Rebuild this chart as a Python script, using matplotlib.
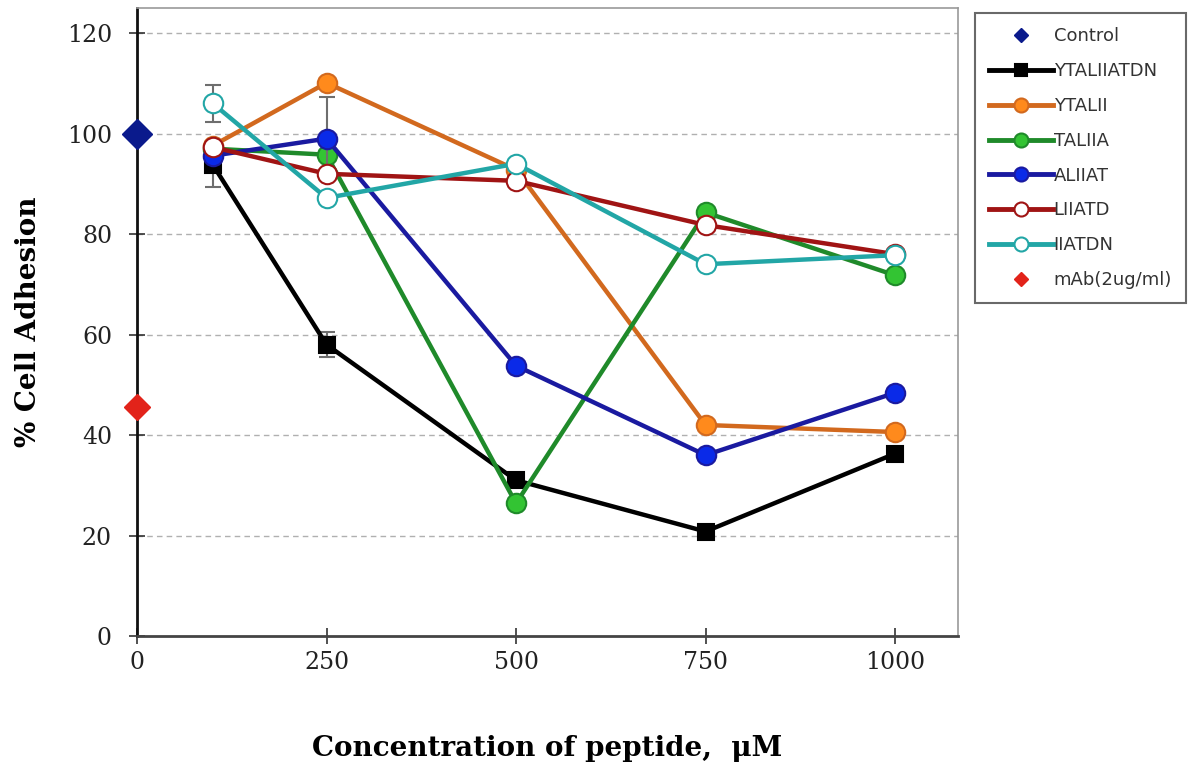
import matplotlib
matplotlib.use("Agg")
import matplotlib.pyplot as plt
from matplotlib.lines import Line2D

conc = [100, 250, 500, 750, 1000]
control_x, control_y = [0], [100]
mab_x, mab_y = [0], [45.6]

ytaliiatdn = [93.8, 58.0, 31.0, 20.8, 36.3]
ytaliiatdn_err = [4.5, 2.5, 0, 0, 0]
ytalii = [97.6, 110.1, 92.8, 42.0, 40.6]
taliia = [97.0, 95.8, 26.4, 84.3, 71.8]
aliiat = [95.6, 99.0, 53.8, 36.0, 48.4]
aliiat_err = [0, 8.2, 0, 0, 0]
liiatd = [97.3, 92.0, 90.6, 81.8, 76.0]
iiatdn = [106.0, 87.2, 94.0, 74.0, 75.8]
iiatdn_err = [3.6, 0, 0, 0, 0]

xticks = [0, 250, 500, 750, 1000]
yticks = [0, 20, 40, 60, 80, 100, 120]

fig = plt.figure(figsize=(11.98, 7.72), dpi=100)
ax = fig.add_axes([137/1198, 1-636/772, (958-137)/1198, (636-8)/772])
ax.set_xlim(0, 1083)
ax.set_ylim(0, 125)

for y in yticks[1:]:
    ax.axhline(y, color="#b0b0b0", lw=1.0, ls=(0, (4, 3)), zorder=0)

series = [
    ("YTALIIATDN", ytaliiatdn, ytaliiatdn_err, "#000000", "#000000", "#000000", "s", 12),
    ("YTALII", ytalii, None, "#d2691e", "#ff8a1c", "#d2691e", "o", 14),
    ("TALIIA", taliia, None, "#1f8a2a", "#33c433", "#1f8a2a", "o", 14),
    ("ALIIAT", aliiat, aliiat_err, "#1a1aa0", "#0a2ae8", "#1a1aa0", "o", 14),
    ("LIIATD", liiatd, None, "#a01414", "#ffffff", "#a01414", "o", 14),
    ("IIATDN", iiatdn, iiatdn_err, "#22a6a6", "#ffffff", "#22a6a6", "o", 14),
]

handles = []
ax.plot(control_x, control_y, ls="none", marker="D", ms=15, color="#0a1a8c",
        clip_on=False, zorder=5)
handles.append(Line2D([], [], ls="none", marker="D", ms=7, color="#0a1a8c", label="Control"))

z = 3
for name, vals, err, lc, fc, ec, mk, ms in series:
    if err is not None:
        xs = [c for c, e in zip(conc, err) if e > 0]
        ys = [v for v, e in zip(vals, err) if e > 0]
        es = [e for e in err if e > 0]
        ax.errorbar(xs, ys, yerr=es, fmt="none", ecolor="#6e6e6e", elinewidth=1.5,
                    capsize=6, capthick=1.5, zorder=z)
    ax.plot(conc, vals, color=lc, lw=3.2, marker=mk, ms=ms, mfc=fc, mec=ec, mew=1.5,
            zorder=z + 0.5)
    handles.append(Line2D([], [], color=lc, lw=3.5, marker=mk, ms=ms*0.72, mfc=fc,
                          mec=ec, mew=1.5, label=name))
    z += 1

ax.plot(mab_x, mab_y, ls="none", marker="D", ms=13, color="#e2231a", clip_on=False, zorder=12)
handles.append(Line2D([], [], ls="none", marker="D", ms=7, color="#e2231a", label="mAb(2ug/ml)"))

ax.set_xticks(xticks)
ax.set_yticks(yticks)
ax.tick_params(direction="inout", length=12, width=1.2, color="#333333")
ax.tick_params(axis="y", pad=12)
ax.tick_params(axis="x", pad=5)
for lab in ax.get_xticklabels() + ax.get_yticklabels():
    lab.set_fontfamily("DejaVu Serif")
    lab.set_fontsize(17)
    lab.set_color("#222222")

ax.spines["left"].set_color("#111111")
ax.spines["left"].set_linewidth(2)
ax.spines["bottom"].set_color("#444444")
ax.spines["bottom"].set_linewidth(2)
ax.spines["top"].set_color("#999999")
ax.spines["right"].set_color("#999999")
ax.spines["top"].set_linewidth(1.2)
ax.spines["right"].set_linewidth(1.2)

ax.set_ylabel("% Cell Adhesion", fontfamily="DejaVu Serif", fontweight="bold",
              fontsize=20, labelpad=18)
ax.set_xlabel("Concentration of peptide,  \u03bcM", fontfamily="DejaVu Serif",
              fontweight="bold", fontsize=20, labelpad=44)

leg = fig.legend(handles=handles, loc="upper left", bbox_to_anchor=(975/1198, 1-13/772),
                 frameon=True, fancybox=False, edgecolor="#444444", fontsize=13,
                 handlelength=3.5, handletextpad=0.05, labelspacing=0.93,
                 borderpad=0.8, borderaxespad=0)
leg.get_frame().set_linewidth(1.5)
for t in leg.get_texts():
    t.set_color("#333333")

fig.savefig("out.png", dpi=100)
